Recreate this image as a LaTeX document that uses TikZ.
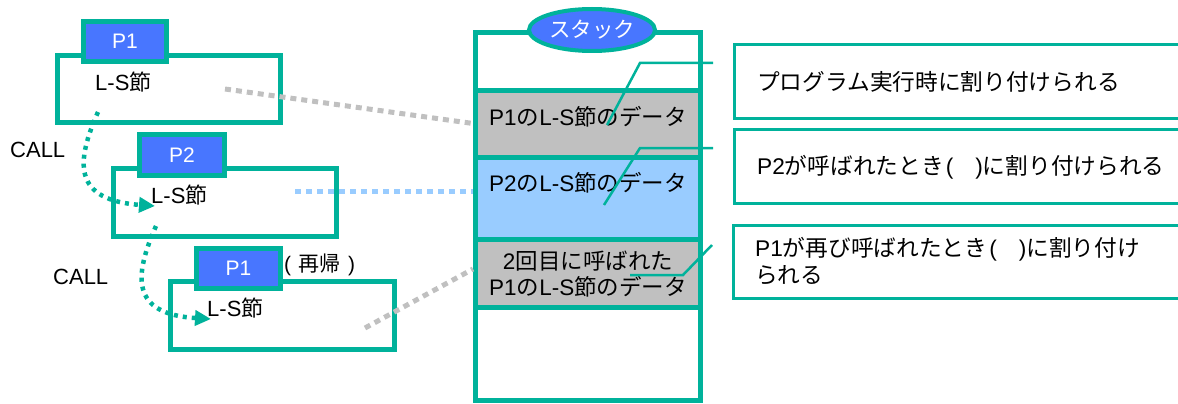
\documentclass[tikz,border=0pt]{standalone}
\usepackage{fontspec}
\setmainfont{Liberation Sans}
\newfontfamily\jp{Noto Sans CJK JP}
\newcommand\J[1]{{\jp #1}}
\newcommand\fs[1]{\fontsize{#1}{#1}\selectfont}
\usetikzlibrary{arrows.meta,shapes.geometric}
\definecolor{teal0}{RGB}{0,178,155}
\definecolor{pblue}{RGB}{72,118,255}
\definecolor{cgrey}{RGB}{192,192,192}
\definecolor{lblue}{RGB}{153,204,255}
\tikzset{
  frame/.style={draw=teal0, line width=5pt, inner sep=0pt, rectangle},
  tab/.style={draw=teal0, fill=pblue, line width=5pt, inner sep=0pt, text=white, font=\fs{21}},
  lstext/.style={inner sep=0pt, anchor=west, font=\fs{22}},
  celltext/.style={inner sep=0pt, font=\fs{22.5}, align=center},
  rbox/.style={draw=teal0, line width=3pt, inner sep=0pt, minimum width=456pt, minimum height=74pt},
  rtext/.style={inner sep=0pt, anchor=west, font=\fs{22.7}, align=left},
  callout/.style={draw=teal0, line width=2.5pt},
  calldot/.style={draw=teal0, line width=4.5pt, dash pattern=on 4pt off 5pt, -{Triangle[length=16pt,width=15pt]}},
  greydot/.style={draw=cgrey, line width=5pt, dash pattern=on 6pt off 5pt},
  bluedot/.style={draw=lblue, line width=5pt, dash pattern=on 6pt off 5pt},
}
\begin{document}
\begin{tikzpicture}[x=1pt,y=-1pt]
\useasboundingbox (0,0) rectangle (1178,404);
% left boxes
\node[frame, minimum width=223pt, minimum height=67pt] (b1) at (169,89) {};
\node[tab, minimum width=83pt, minimum height=40pt] (t1) at (125,41.5) {P1};
\node[lstext] (l1) at (95,82) {L-S\J{節}};
\node[frame, minimum width=223pt, minimum height=68pt] (b2) at (225,202.5) {};
\node[tab, minimum width=85pt, minimum height=41pt] (t2) at (182,155) {P2};
\node[lstext] (l2) at (151,195) {L-S\J{節}};
\node[frame, minimum width=224pt, minimum height=68pt] (b3) at (282.5,315.5) {};
\node[tab, minimum width=84pt, minimum height=40pt] (t3) at (238.5,268.5) {P1};
\node[lstext] (l3) at (207,308) {L-S\J{節}};
\node[inner sep=0pt, anchor=west, font=\fs{21}] (rec) at (284,265) {(\hspace{7pt}\J{再帰}\hspace{8pt})};
\node[lstext] (call1) at (10,150) {CALL};
\node[lstext] (call2) at (53,277) {CALL};
% stack
\node[frame, minimum width=225pt, minimum height=368pt] (stack) at (588,216.5) {};
\node[frame, fill=cgrey, minimum width=225pt, minimum height=67pt] (c1) at (588,123.5) {};
\node[frame, fill=lblue, minimum width=225pt, minimum height=82pt] (c2) at (588,198) {};
\node[frame, fill=cgrey, minimum width=225pt, minimum height=68pt] (c3) at (588,273) {};
\node[celltext] (ct1) at (588,117) {P1\J{の}L-S\J{節のデータ}};
\node[celltext] (ct2) at (588,183) {P2\J{の}L-S\J{節のデータ}};
\node[celltext] (ct3) at (588,274) {2\J{回目に呼ばれた}\\[4pt]P1\J{の}L-S\J{節のデータ}};
\node[ellipse, draw=teal0, fill=pblue, line width=4pt, inner sep=0pt, minimum width=126pt, minimum height=42pt, text=white, font=\fs{21.5}] (sl) at (592,30) {\J{スタック}};
% right boxes
\node[rbox] (ra) at (962.5,81.5) {};
\node[rbox] (rb) at (962.5,166.5) {};
\node[rbox, minimum height=73pt] (rc) at (961.5,262) {};
\node[rtext] (ta) at (757,82) {\J{プログラム実行時に割り付けられる}};
\node[rtext] (tb) at (757,167) {P2\J{が呼ばれたとき}\hspace{2pt}(\hspace{22pt})\J{に割り付けられる}};
\node[rtext] (tc) at (755,261.5) {P1\J{が再び呼ばれたとき}\hspace{2pt}(\hspace{22pt})\J{に割り付け}\\[3pt]\J{られる}};
% callouts
\coordinate (k1a) at (713,63); \coordinate (k1b) at (640,63); \coordinate (k1c) at (607,125);
\coordinate (k2a) at (713,148); \coordinate (k2b) at (640,148); \coordinate (k2c) at (604,205);
\coordinate (k3a) at (712,245); \coordinate (k3b) at (683,275); \coordinate (k3c) at (630,275);
\draw[callout] (k1a) -- (k1b) -- (k1c);
\draw[callout] (k2a) -- (k2b) -- (k2c);
\draw[callout] (k3a) -- (k3b) -- (k3c);
% dotted links
\coordinate (g1) at (225,89);
\coordinate (g2) at (295,191);
\coordinate (g3) at (365,328);
\draw[greydot] (g1) -- (c1.west);
\draw[bluedot] (g2) -- (c2.west |- g2);
\draw[greydot] (g3) -- ([yshift=4pt]c3.west);
% call arrows
\coordinate (a1) at (98,112);
\coordinate (a2) at (156,226);
\draw[calldot] (a1) .. controls (76,162) and (72,200) .. ([shift={(4,11)}]l2.west);
\draw[calldot] (a2) .. controls (134,276) and (130,314) .. ([shift={(4,11)}]l3.west);
\end{tikzpicture}
\end{document}
